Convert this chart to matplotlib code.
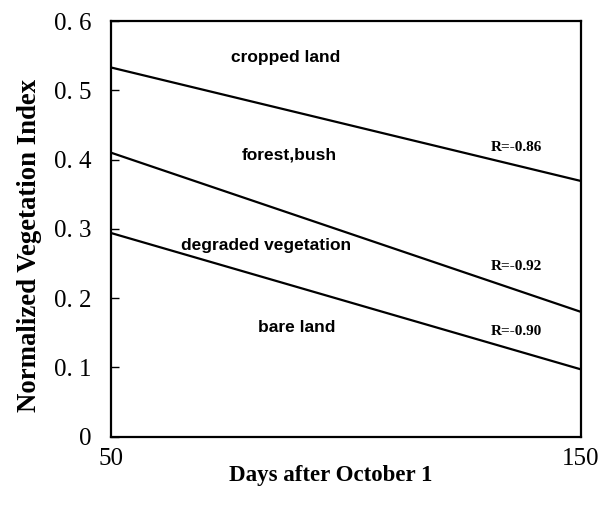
"""
NDVI trend lines vs. days after October 1.
"""
import matplotlib
matplotlib.use("Agg")
import matplotlib.pyplot as plt

days = [50, 150]
croppedLine = [0.533, 0.369]
forestLine = [0.410, 0.180]
bareLine = [0.294, 0.097]

yTicks = [0, 0.1, 0.2, 0.3, 0.4, 0.5, 0.6]
yTickLabels = ["0", "0. 1", "0. 2", "0. 3", "0. 4", "0. 5", "0. 6"]
xTicks = [50, 150]

classLabels = ["cropped land", "forest,bush", "degraded vegetation", "bare land"]
classPos = [(87.2, 0.548), (87.9, 0.406), (83.1, 0.276), (89.6, 0.157)]
rLabels = ["R=-0.86", "R=-0.92", "R=-0.90"]
rPos = [(136.3, 0.418), (136.3, 0.246), (136.3, 0.152)]

SERIF = "Liberation Serif"
SANS = "Liberation Sans"

fig = plt.figure(figsize=(6.09, 5.13), dpi=100)
ax = fig.add_axes([0.182, 0.149, 0.772, 0.810])

for vals in (croppedLine, forestLine, bareLine):
    ax.plot(days, vals, color="black", linewidth=1.6)

for txt, (x, y) in zip(classLabels, classPos):
    ax.text(x, y, txt, family=SANS, fontsize=12.5, fontweight="bold", ha="center", va="center")
for txt, (x, y) in zip(rLabels, rPos):
    ax.text(x, y, txt, family=SERIF, fontsize=11, fontweight="bold", ha="center", va="center")

ax.set_xlim(50, 150)
ax.set_ylim(0, 0.6)
ax.set_yticks(yTicks)
ax.set_yticklabels(yTickLabels, family=SERIF, fontsize=18)
ax.set_xticks(xTicks)
ax.set_xticklabels([str(v) for v in xTicks], family=SERIF, fontsize=18)
ax.tick_params(axis="y", direction="in", length=6, width=1, pad=14)
ax.tick_params(axis="x", length=0, pad=8)
for s in ax.spines.values():
    s.set_linewidth(1.6)

ax.set_xlabel("Days after October 1", family=SERIF, fontsize=16.5, fontweight="bold")
ax.xaxis.set_label_coords(0.468, -0.068)
ax.set_ylabel("Normalized Vegetation Index", family=SERIF, fontsize=19.3, fontweight="bold")
ax.yaxis.set_label_coords(-0.147, 0.46)

fig.savefig("out.png", dpi=100)
